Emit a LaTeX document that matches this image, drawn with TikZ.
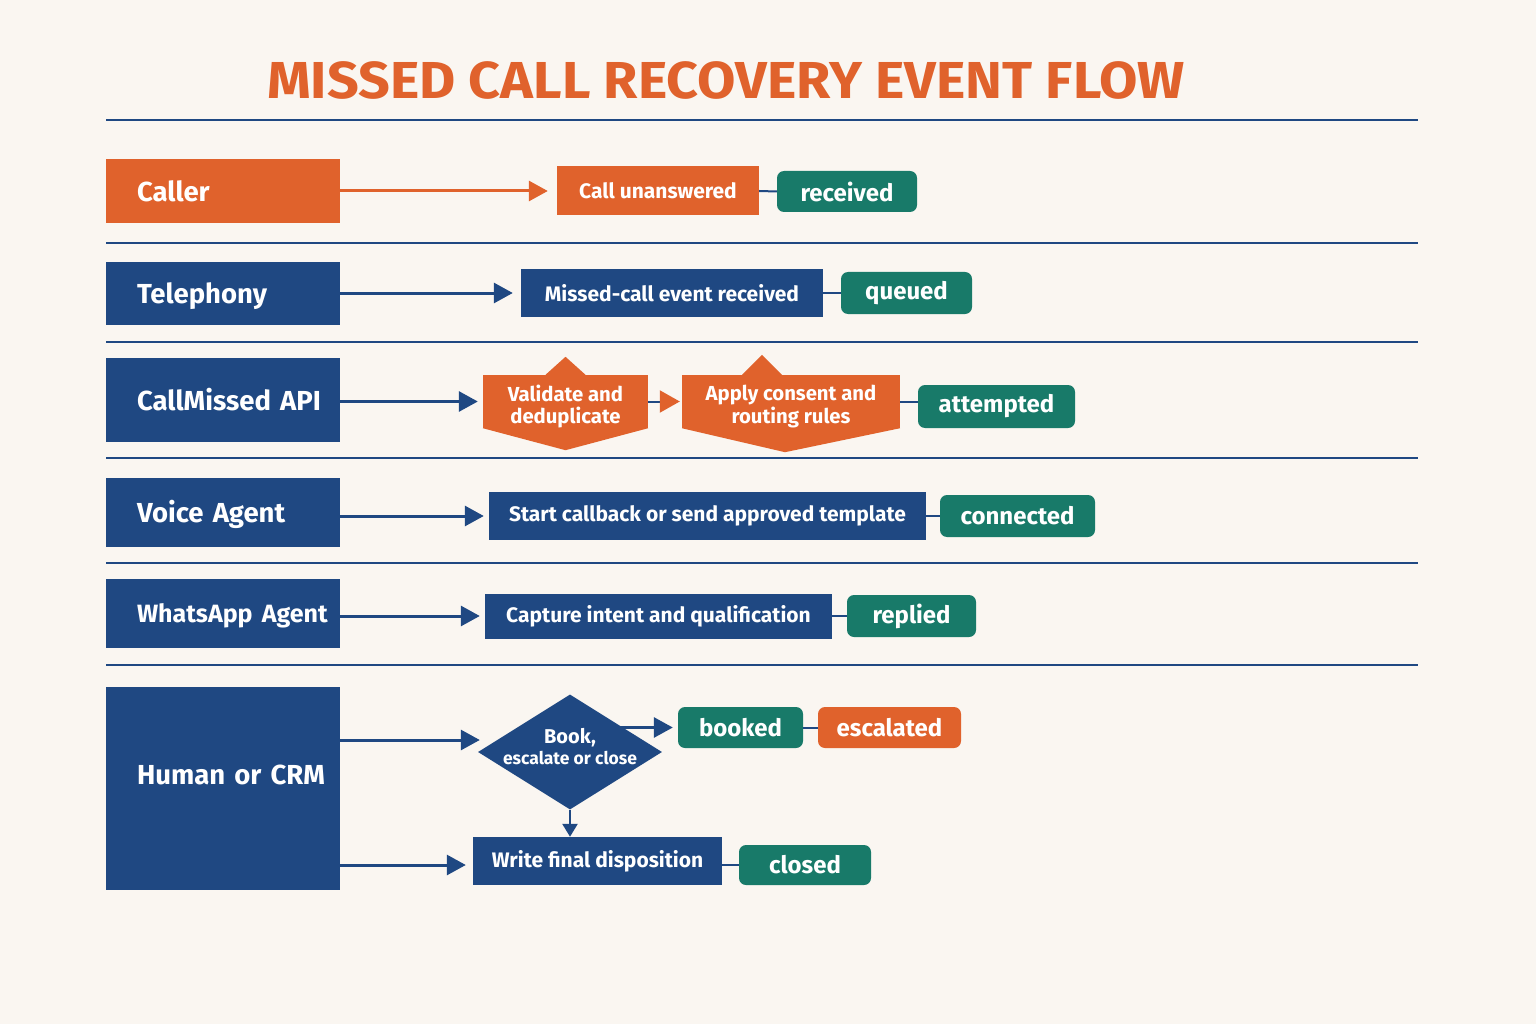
\documentclass[tikz,border=0pt]{standalone}
\usepackage{fontspec}
\setmainfont{Fira Sans}
\usetikzlibrary{arrows.meta,shapes.geometric}
\definecolor{bg}{RGB}{250,246,241}
\definecolor{org}{RGB}{224,98,44}
\definecolor{nav}{RGB}{31,72,130}
\definecolor{tea}{RGB}{24,122,105}
\begin{document}
\begin{tikzpicture}[x=1pt,y=-1pt,
  lane/.style={fill=nav, text=white, font=\bfseries\fontsize{27.5}{30}\selectfont,
     minimum width=234pt, text width=172pt, inner xsep=31pt, inner ysep=0pt, align=left},
  boxn/.style={fill=nav, text=white, font=\bfseries\fontsize{21}{24}\selectfont, inner sep=0pt},
  pill/.style={fill=tea, text=white, rounded corners=7pt, font=\bfseries\fontsize{24}{26}\selectfont, inner sep=0pt},
  shp/.style={fill=org, text=white, font=\bfseries\fontsize{20.3}{23}\selectfont, align=center, inner sep=0pt},
  arr/.style={line width=3pt, draw=nav, -{Triangle[length=19pt,width=20pt]}},
  conn/.style={line width=2pt, draw=nav},
  sep/.style={line width=1.5pt, draw=nav}
]
\fill[bg] (0,0) rectangle (1536,1024);
\useasboundingbox (0,0) rectangle (1536,1024);

% title
\node[text=org, font=\bfseries\fontsize{52}{56}\selectfont] (title) at (726,80)
  {\scalebox{1.07}[1]{MISSED CALL RECOVERY EVENT FLOW}};
\draw[line width=2.5pt, draw=nav] (106,120) -- (1418,120);
\foreach \yy in {243,342,458,563,665} \draw[sep] (106,\yy) -- (1418,\yy);

% lanes
\node[lane, fill=org, minimum height=64pt] (caller) at (223,191) {\mbox{Caller}};
\node[lane, minimum height=63pt] (tel) at (223,293.5) {\raisebox{-3pt}[\height][\depth]{\mbox{Telephony}}};
\node[lane, minimum height=84pt] (api) at (223,400) {\mbox{CallMissed API}};
\node[lane, minimum height=69pt] (voice) at (223,512.5) {\raisebox{-2pt}[\height][\depth]{\mbox{Voice Agent}}};
\node[lane, minimum height=69pt] (wa) at (223,613.5) {\raisebox{-2pt}[\height][\depth]{\mbox{\fontsize{25}{28}\selectfont WhatsApp Agent}}};
\node[lane, minimum height=203pt] (hc) at (223,788.5) {\raisebox{14pt}[\height][\depth]{\mbox{Human or CRM}}};

% row 1
\node[boxn, fill=org, minimum width=202pt, minimum height=49pt] (cu) at (658,191) {Call unanswered};
\node[pill, minimum width=140pt, minimum height=41pt] (rec) at (847,191.5) {received};
\draw[arr, draw=org] (caller.east) -- ([xshift=-9pt]cu.west);
\draw[conn] (cu.east) -- (rec.west);

% row 2
\node[boxn, minimum width=302pt, minimum height=47pt] (mc) at (672,293) {Missed-call event received};
\node[pill, minimum width=131pt, minimum height=42pt] (que) at (906.5,293) {queued};
\draw[arr] (tel.east |- mc.west) -- ([xshift=-8pt]mc.west);
\draw[conn] (mc.east) -- (que.west);

% row 3
\node[shp, minimum width=165pt, minimum height=53pt] (s1) at (565.5,401.5)
  {\raisebox{-6pt}[\height][\depth]{\begin{tabular}{@{}c@{}}Validate and\\[-1pt]deduplicate\end{tabular}}};
\node[shp, minimum width=218pt, minimum height=53pt] (s2) at (791,401.5)
  {\raisebox{-6pt}[\height][\depth]{\begin{tabular}{@{}c@{}}Apply consent and\\[-1pt]routing rules\end{tabular}}};
\fill[org] ([xshift=-20pt]s1.north) -- ([yshift=18pt]s1.north) -- ([xshift=20pt]s1.north) -- cycle;
\fill[org] (s1.south west) -- ([yshift=-22pt]s1.south) -- (s1.south east) -- cycle;
\fill[org] ([xshift=-49pt]s2.north) -- ([xshift=-29pt,yshift=20pt]s2.north) -- ([xshift=-9pt]s2.north) -- cycle;
\fill[org] (s2.south west) -- ([xshift=-6pt,yshift=-24pt]s2.south) -- (s2.south east) -- cycle;
\node[pill, minimum width=157pt, minimum height=43pt] (att) at (996.5,406.5) {attempted};
\draw[arr] (api.east |- s1.west) -- ([xshift=-5pt]s1.west);
\draw[conn, -{Triangle[length=20pt,width=22pt,fill=org,color=org]}] (s1.east) -- ([xshift=-2pt]s2.west);
\draw[conn] (s2.east) -- (s2.east -| att.west);

% row 6
\node[boxn, minimum width=437pt, minimum height=48pt] (cb) at (707.5,516) {Start callback or send approved template};
\node[pill, minimum width=155pt, minimum height=42pt] (con) at (1017.5,516) {connected};
\draw[arr] (voice.east |- cb.west) -- ([xshift=-5pt]cb.west);
\draw[conn] (cb.east) -- (con.west);

% row 5
\node[boxn, minimum width=347pt, minimum height=45pt] (ci) at (658.5,616) {Capture intent and qualification};
\node[pill, minimum width=129pt, minimum height=42pt] (rep) at (911.5,616) {replied};
\draw[arr] (wa.east |- ci.west) -- ([xshift=-5pt]ci.west);
\draw[conn] (ci.east) -- (rep.west);

% row 6
\node[diamond, fill=nav, minimum width=184pt, minimum height=115pt, inner sep=0pt,
      label={[text=white, align=center, yshift=5pt, font=\bfseries\fontsize{20}{22}\selectfont]center:Book,\\[-1pt]{\fontsize{17.5}{20}\selectfont escalate or close}}]
      (dia) at (570,752) {};
\node[pill, minimum width=125pt, minimum height=41pt] (bk) at (740.5,727.5) {booked};
\node[pill, fill=org, minimum width=143pt, minimum height=41pt] (esc) at (889.5,727.5) {escalated};
\node[boxn, minimum width=249pt, minimum height=48pt] (wf) at (597.5,861) {Write final disposition};
\node[pill, minimum width=132pt, minimum height=40pt] (clo) at (805,865) {closed};
\coordinate (dIn) at ([yshift=12pt]dia.west);
\draw[arr] (hc.east |- dIn) -- ([xshift=2pt]dIn);
\draw[arr] (dia.north east |- bk.west) -- ([xshift=-5pt]bk.west);
\draw[conn] (bk.east) -- (esc.west);
\draw[arr, line width=2.5pt, -{Triangle[length=13pt,width=15pt]}] (dia.south) -- (dia.south |- wf.north);
\draw[arr] (hc.east |- clo.west) -- ([xshift=-7pt]wf.west |- clo.west);
\draw[conn] (wf.east |- clo.west) -- (clo.west);
\end{tikzpicture}
\end{document}
